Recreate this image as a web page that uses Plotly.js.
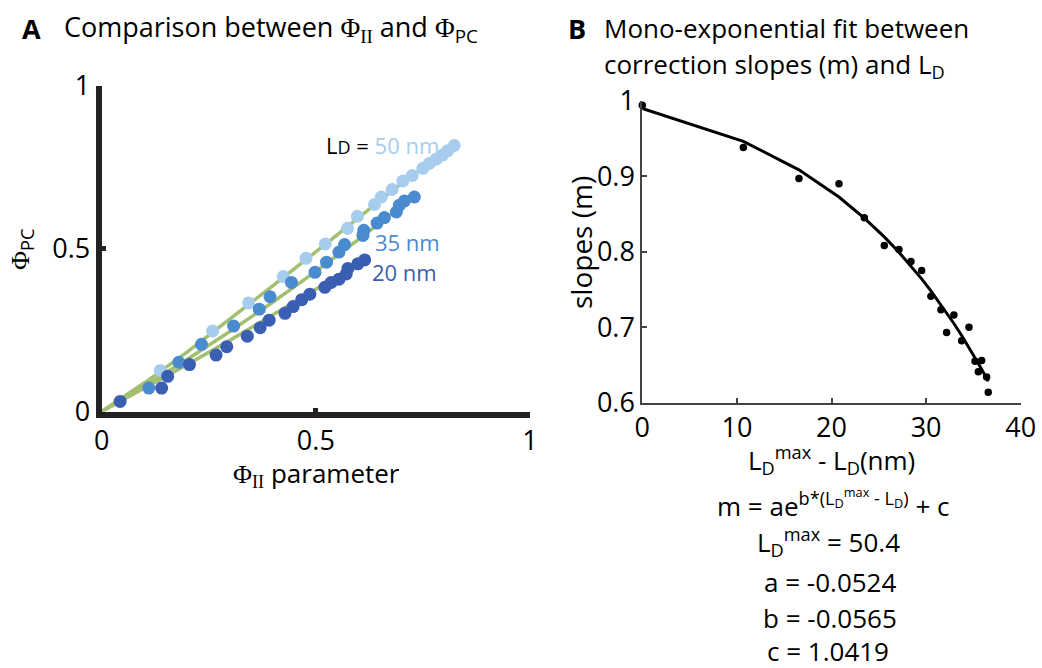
<!DOCTYPE html>
<html><head><meta charset="utf-8">
<script src="https://cdn.plot.ly/plotly-3.0.1.min.js"></script>
<style>html,body{margin:0;padding:0;background:#fff}#chart{width:1042px;height:668px}</style>
</head><body><div id="chart"></div>
<script>
// ---- Panel A data: Phi_II vs Phi_PC ----
const phi2_50 = [0.137,0.259,0.343,0.424,0.477,0.522,0.574,0.597,0.637,0.653,0.678,0.703,0.725,0.750,0.765,0.781,0.796,0.808,0.823];
const phiPC_50 = [0.126,0.247,0.333,0.414,0.470,0.514,0.562,0.599,0.635,0.658,0.681,0.707,0.724,0.746,0.761,0.774,0.787,0.800,0.816];
const phi2_35 = [0.110,0.180,0.233,0.308,0.368,0.393,0.443,0.498,0.525,0.554,0.567,0.610,0.612,0.643,0.660,0.688,0.695,0.707,0.730];
const phiPC_35 = [0.072,0.151,0.206,0.262,0.314,0.352,0.396,0.427,0.458,0.489,0.512,0.540,0.556,0.578,0.595,0.612,0.633,0.646,0.658];
const phi2_20 = [0.043,0.140,0.154,0.205,0.267,0.292,0.340,0.370,0.391,0.428,0.447,0.467,0.486,0.521,0.536,0.554,0.571,0.575,0.598,0.614];
const phiPC_20 = [0.031,0.072,0.108,0.144,0.173,0.199,0.231,0.257,0.280,0.301,0.322,0.343,0.360,0.381,0.396,0.406,0.422,0.439,0.453,0.465];
const fitX_50 = [0,0.1,0.2,0.3,0.4,0.5,0.6,0.7,0.825];
const fitY_50 = [0,0.088,0.183,0.283,0.386,0.49,0.594,0.70,0.818];
const fitX_35 = [0,0.1,0.2,0.3,0.4,0.5,0.6,0.73];
const fitY_35 = [0,0.078,0.16,0.246,0.336,0.43,0.528,0.661];
const fitX_20 = [0,0.1,0.2,0.3,0.4,0.5,0.62];
const fitY_20 = [0,0.071,0.144,0.219,0.296,0.375,0.472];
const ticksA = [0,0.5,1];
const tickTextA = ['0','0.5','1'];

// ---- Panel B data: slopes vs LDmax - LD ----
const dLD = [0,10.68,16.56,20.79,23.47,25.58,27.13,28.40,29.53,30.51,31.57,32.17,32.94,33.76,34.53,35.17,35.87,35.52,36.40,36.57];
const slopes = [0.994,0.938,0.897,0.890,0.845,0.808,0.803,0.787,0.775,0.741,0.723,0.693,0.716,0.682,0.700,0.655,0.656,0.641,0.634,0.614];
const fitDLD = [0,10.68,16.56,20.79,23.47,25.58,27.13,28.40,29.53,30.51,31.57,32.17,32.94,33.76,34.53,35.17,35.52,35.87,36.40,36.57];
const fitSlope = [0.9895,0.9461,0.9083,0.8723,0.8445,0.8196,0.7992,0.7812,0.7640,0.7482,0.7300,0.7193,0.7049,0.6889,0.6733,0.6597,0.6520,0.6442,0.6322,0.6282];
const ticksBx = [0,10,20,30,40];
const ticksBy = [0.6,0.7,0.8,0.9,1];
const tickTextBy = ['0.6','0.7','0.8','0.9','1'];

const W = 1042, H = 668;
const px = x => x / W, py = y => 1 - y / H;
const FONT = 'Open Sans, Noto Sans, sans-serif';
const SERIF = 'Liberation Serif, DejaVu Serif, serif';
const PHI = '<span style="font-family:' + SERIF + '">Φ</span>';
const SUBII = '<sub><span style="font-family:' + SERIF + '">II</span></sub>';
const C50 = '#a6cdee', C35 = '#4a8bcf', C20 = '#3a5eb1', GREEN = '#a3bf72';

const traces = [
  {x: fitX_50, y: fitY_50, mode: 'lines', line: {color: GREEN, width: 3.5}, xaxis: 'x', yaxis: 'y', hoverinfo: 'skip'},
  {x: fitX_35, y: fitY_35, mode: 'lines', line: {color: GREEN, width: 3.5}, xaxis: 'x', yaxis: 'y', hoverinfo: 'skip'},
  {x: fitX_20, y: fitY_20, mode: 'lines', line: {color: GREEN, width: 3.5}, xaxis: 'x', yaxis: 'y', hoverinfo: 'skip'},
  {x: phi2_50, y: phiPC_50, mode: 'markers', marker: {color: C50, size: 13}, xaxis: 'x', yaxis: 'y', cliponaxis: false},
  {x: phi2_35, y: phiPC_35, mode: 'markers', marker: {color: C35, size: 13}, xaxis: 'x', yaxis: 'y', cliponaxis: false},
  {x: phi2_20, y: phiPC_20, mode: 'markers', marker: {color: C20, size: 13}, xaxis: 'x', yaxis: 'y', cliponaxis: false},
  {x: fitDLD, y: fitSlope, mode: 'lines', line: {color: '#000', width: 3}, xaxis: 'x2', yaxis: 'y2'},
  {x: dLD, y: slopes, mode: 'markers', marker: {color: '#000', size: 7.5}, xaxis: 'x2', yaxis: 'y2', cliponaxis: false}
];

const axA = {showgrid: false, zeroline: false, showline: true, linewidth: 6, linecolor: '#222',
  ticks: 'inside', ticklen: 4, tickwidth: 5, tickcolor: '#222', tickfont: {family: FONT, size: 27, color: '#000'}};
const axB = {showgrid: false, zeroline: false, showline: true, linewidth: 2, linecolor: '#444',
  ticks: 'inside', ticklen: 5, tickwidth: 2, tickcolor: '#444', tickfont: {family: FONT, size: 27, color: '#000'}};

const ann = (x, y, text, opts) => Object.assign({xref: 'paper', yref: 'paper', x: px(x), y: py(y), text: text,
  showarrow: false, font: {family: FONT, size: 26, color: '#000'}, xanchor: 'left', yanchor: 'middle'}, opts || {});

const annotations = [
  ann(20, 28, '<b>A</b>', {font: {family: FONT, size: 27, color: '#000'}}),
  ann(62, 28, 'Comparison between ' + PHI + SUBII + ' and ' + PHI + '<sub>PC</sub>', {font: {family: FONT, size: 27, color: '#000'}}),
  ann(566, 28, '<b>B</b>', {font: {family: FONT, size: 27, color: '#000'}}),
  ann(602, 28, 'Mono-exponential fit between'),
  ann(602, 65, 'correction slopes (m) and L<sub>D</sub>'),
  ann(324, 145, 'L<span style="font-size:18px">D</span> = <span style="color:' + C50 + '">50 nm</span>', {font: {family: FONT, size: 22, color: '#000'}}),
  ann(373, 242, '35 nm', {font: {family: FONT, size: 22, color: C35}}),
  ann(370, 272, '20 nm', {font: {family: FONT, size: 22, color: C20}}),
  ann(316, 473, PHI + SUBII + ' parameter', {xanchor: 'center'}),
  ann(22, 250, PHI + '<sub>PC</sub>', {xanchor: 'center', textangle: -90}),
  ann(581, 243, 'slopes (m)', {xanchor: 'center', textangle: -90, font: {family: FONT, size: 28, color: '#000'}}),
  ann(831, 460, 'L<sub>D</sub><sup>max</sup> - L<sub>D</sub>(nm)', {xanchor: 'center'}),
  ann(833, 503, 'm = ae<sup>b*(L<sub>D</sub><sup>max</sup> - L<sub>D</sub>)</sup> + c', {xanchor: 'center'}),
  ann(828, 542, 'L<sub>D</sub><sup>max</sup> = 50.4', {xanchor: 'center'}),
  ann(830, 582, 'a = -0.0524', {xanchor: 'center'}),
  ann(830, 618, 'b = -0.0565', {xanchor: 'center'}),
  ann(828, 651, 'c = 1.0419', {xanchor: 'center'})
];

const layout = {
  width: W, height: H, margin: {l: 0, r: 0, t: 0, b: 0}, showlegend: false,
  paper_bgcolor: '#fff', plot_bgcolor: '#fff', font: {family: FONT},
  xaxis: Object.assign({}, axA, {domain: [px(101.7), px(530)], range: [0, 1], tickvals: ticksA, ticktext: tickTextA, anchor: 'y'}),
  yaxis: Object.assign({}, axA, {domain: [py(411.5), py(85.5)], range: [0, 1], tickvals: ticksA, ticktext: tickTextA, anchor: 'x'}),
  xaxis2: Object.assign({}, axB, {domain: [px(642.3), px(1020.7)], range: [0, 40], tickvals: ticksBx, anchor: 'y2'}),
  yaxis2: Object.assign({}, axB, {domain: [py(402.7), py(100.6)], range: [0.6, 1], tickvals: ticksBy, ticktext: tickTextBy, anchor: 'x2'}),
  annotations: annotations
};

Plotly.newPlot('chart', traces, layout, {staticPlot: true, displayModeBar: false});
</script></body></html>
